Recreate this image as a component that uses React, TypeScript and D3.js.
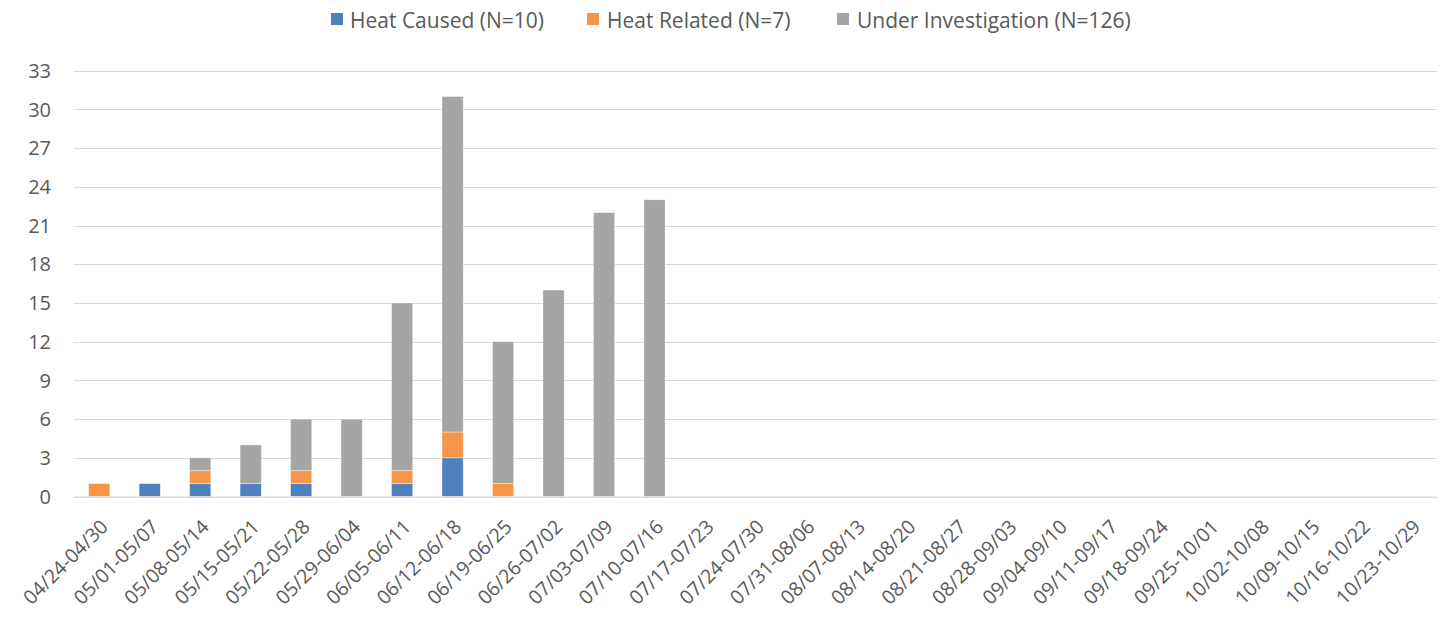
import React from "react";
import * as d3 from "d3";

const categories = [
  "04/24-04/30", "05/01-05/07", "05/08-05/14", "05/15-05/21", "05/22-05/28",
  "05/29-06/04", "06/05-06/11", "06/12-06/18", "06/19-06/25", "06/26-07/02",
  "07/03-07/09", "07/10-07/16", "07/17-07/23", "07/24-07/30", "07/31-08/06",
  "08/07-08/13", "08/14-08/20", "08/21-08/27", "08/28-09/03", "09/04-09/10",
  "09/11-09/17", "09/18-09/24", "09/25-10/01", "10/02-10/08", "10/09-10/15",
  "10/16-10/22", "10/23-10/29",
];
const heatCaused = [0, 1, 1, 1, 1, 0, 1, 3, 0, 0, 0, 0, 0, 0, 0, 0, 0, 0, 0, 0, 0, 0, 0, 0, 0, 0, 0];
const heatRelated = [1, 0, 1, 0, 1, 0, 1, 2, 1, 0, 0, 0, 0, 0, 0, 0, 0, 0, 0, 0, 0, 0, 0, 0, 0, 0, 0];
const underInvestigation = [0, 0, 1, 3, 4, 6, 13, 26, 11, 16, 22, 23, 0, 0, 0, 0, 0, 0, 0, 0, 0, 0, 0, 0, 0, 0, 0];
const seriesNames = ["Heat Caused (N=10)", "Heat Related (N=7)", "Under Investigation (N=126)"];
const seriesColors = ["#4f81bd", "#f79646", "#a5a5a5"];
const yTicks = [0, 3, 6, 9, 12, 15, 18, 21, 24, 27, 30, 33];

const W = 1445, H = 621;
const FONT = "'Open Sans', 'Noto Sans', sans-serif";
const TXT = "#595959";

export default function App() {
  const x = d3.scaleBand<string>().domain(categories).range([74, 1437]).paddingInner(0.58).paddingOuter(0.29);
  const y = d3.scaleLinear().domain([0, 33]).range([496.5, 70.7]);

  const rows = categories.map((c, i) => ({ c, a: heatCaused[i], b: heatRelated[i], u: underInvestigation[i] }));
  const stack = d3.stack<any>().keys(["a", "b", "u"])(rows);

  const legendSwatchX = [331, 587, 837];
  const legendTextX = [350, 607, 857];

  return (
    <div style={{ position: "absolute", left: 0, top: 0 }}>
      <svg width={W} height={H} style={{ display: "block", background: "#fff" }} fontFamily={FONT}>
        {yTicks.map((t) => (
          <g key={t}>
            <line x1={74} x2={1437} y1={Math.round(y(t)) + 0.5} y2={Math.round(y(t)) + 0.5} stroke="#d9d9d9" strokeWidth={1.2} />
            <text x={51} y={y(t)} dy="0.36em" textAnchor="end" fontSize={20} fill={TXT}>{t}</text>
          </g>
        ))}
        {stack.map((s, si) => (
          <g key={si}>
            {s.map((d, i) => {
              const h = y(d[0]) - y(d[1]);
              if (h <= 0) return null;
              return (
                <rect key={i} x={x(categories[i])!} width={x.bandwidth()} y={y(d[1])} height={h}
                  fill={seriesColors[si]} stroke="#ffffff" strokeOpacity={0.5} strokeWidth={0.75} />
              );
            })}
          </g>
        ))}
        <line x1={74} x2={1437} y1={497} y2={497} stroke="#d9d9d9" strokeWidth={1.2} />
        {categories.map((c) => {
          const cx = x(c)! + x.bandwidth() / 2;
          return (
            <text key={c} transform={`translate(${cx + 10},${528}) rotate(-45)`} textAnchor="end"
              fontSize={19.5} fill={TXT}>{c}</text>
          );
        })}
        {seriesNames.map((n, i) => (
          <g key={n}>
            <rect x={legendSwatchX[i]} y={13} width={12} height={12} fill={seriesColors[i]} />
            <text x={legendTextX[i]} y={27.5} fontSize={21} fill={TXT}>{n}</text>
          </g>
        ))}
      </svg>
    </div>
  );
}
